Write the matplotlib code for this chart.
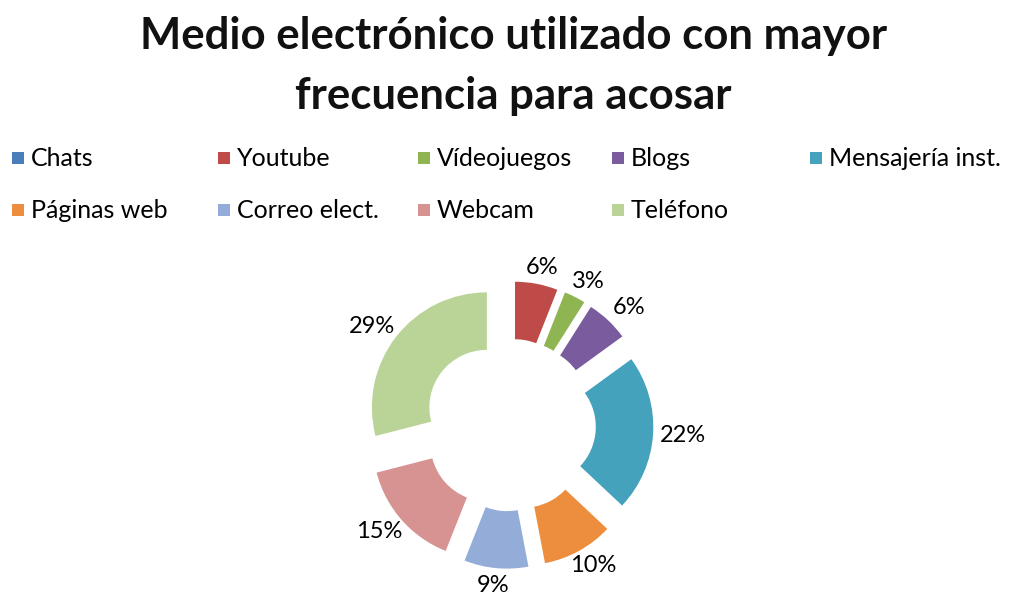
import numpy as np
import matplotlib
matplotlib.use("Agg")
import matplotlib.pyplot as plt
from matplotlib.patches import Rectangle

categories = ["Chats", "Youtube", "Vídeojuegos", "Blogs", "Mensajería inst.",
              "Páginas web", "Correo elect.", "Webcam", "Teléfono"]
values = [0, 6, 3, 6, 22, 10, 9, 15, 29]
colors = ["#4A7EBB", "#BE4B48", "#8FB452", "#7A5C9E", "#44A2BD",
          "#EC8E3E", "#93ADD8", "#D69392", "#B9D496"]
title = "Medio electrónico utilizado con mayor\nfrecuencia para acosar"

FONT = ["Lato", "DejaVu Sans"]
W, H = 1027, 596
fig = plt.figure(figsize=(W / 100, H / 100), dpi=100)
fig.patch.set_facecolor("white")

# title
fig.text(0.5, 1 - 66 / H, title, ha="center", va="center", fontsize=31.5,
         fontweight="bold", family=FONT, color="#111111", linespacing=1.6)

# legend (two rows, Excel style)
leg_x = [12, 218, 418, 612, 810]
leg_y = [158, 210]
for i, (cat, col) in enumerate(zip(categories, colors)):
    r, c = divmod(i, 5)
    x = leg_x[c] / W
    y = 1 - leg_y[r] / H
    fig.patches.append(Rectangle((x, y - 6 / H), 12 / W, 12 / H,
                                 transform=fig.transFigure, facecolor=col,
                                 edgecolor="none"))
    fig.text(x + 19 / W, y, cat, ha="left", va="center", fontsize=18,
             family=FONT, color="black")

# donut
R_px = 115
cx, cy = 509.6, 425
half = 1.6
ax = fig.add_axes([(cx - half * R_px) / W, 1 - (cy + half * R_px) / H,
                   2 * half * R_px / W, 2 * half * R_px / H])

explode = [0.25] * len(values)
wedges, _ = ax.pie(values, colors=colors, startangle=90, counterclock=False,
                   explode=explode, radius=1.0,
                   wedgeprops=dict(width=0.5, edgecolor="none"))
ax.set_xlim(-half, half)
ax.set_ylim(-half, half)
ax.set_aspect("equal")
ax.axis("off")

# labels placed just outside the outer edge (text box touching anchor circle)
total = sum(values)
hw, hh = 22, 9  # half text box size in pixels
for w, v in zip(wedges, values):
    if v == 0:
        continue
    ang = np.deg2rad((w.theta1 + w.theta2) / 2)
    d = 1.32
    ax.annotate(f"{round(100 * v / total)}%",
                xy=(d * np.cos(ang), d * np.sin(ang)),
                xytext=(hw * np.cos(ang), hh * np.sin(ang)),
                textcoords="offset pixels",
                ha="center", va="center", fontsize=17, family=FONT,
                color="black", annotation_clip=False)

fig.savefig("out.png", dpi=100, facecolor="white")
